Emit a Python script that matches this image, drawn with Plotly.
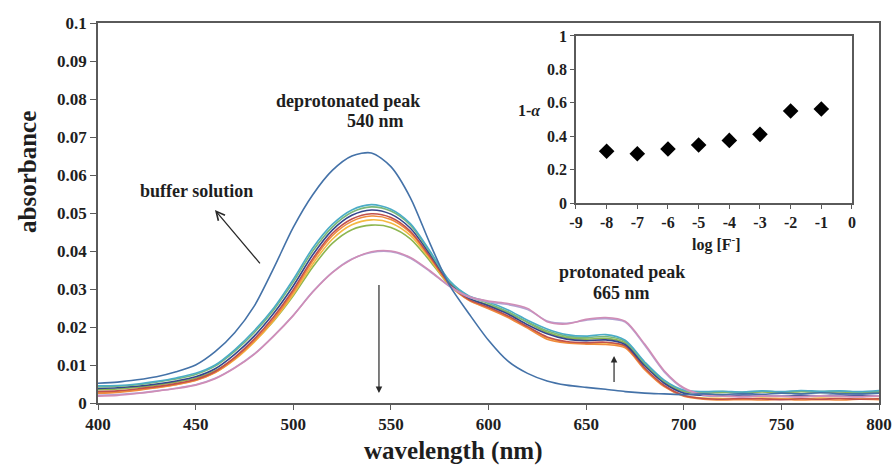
import plotly.graph_objects as go

# ---------------- data ----------------
wavelength = list(range(400, 801, 10))

buffer_solution = [0.0052, 0.0055, 0.0061, 0.0069, 0.0082, 0.0100, 0.0135, 0.0185, 0.0255, 0.0355,
                   0.0462, 0.0548, 0.0612, 0.0650, 0.0658, 0.0622, 0.0540, 0.0420, 0.0310, 0.0235,
                   0.0165, 0.0110, 0.0078, 0.0058, 0.0047, 0.0041, 0.0036, 0.0030, 0.0026, 0.0024,
                   0.0022, 0.0024, 0.0022, 0.0025, 0.0023, 0.0026, 0.0024, 0.0027, 0.0025, 0.0024, 0.0026]

s_aqua = [0.0045, 0.0046, 0.0050, 0.0057, 0.0066, 0.0078, 0.0100, 0.0140, 0.0190, 0.0250,
          0.0325, 0.0408, 0.0470, 0.0508, 0.0522, 0.0510, 0.0472, 0.0400, 0.0322, 0.0282,
          0.0266, 0.0245, 0.0218, 0.0195, 0.0180, 0.0176, 0.0180, 0.0165, 0.0108, 0.0060,
          0.0034, 0.0030, 0.0031, 0.0029, 0.0032, 0.0030, 0.0033, 0.0031, 0.0032, 0.0030, 0.0033]

s_lightgreen = [0.0042, 0.0044, 0.0048, 0.0055, 0.0063, 0.0075, 0.0097, 0.0136, 0.0185, 0.0245,
                0.0318, 0.0400, 0.0463, 0.0502, 0.0516, 0.0505, 0.0468, 0.0397, 0.0320, 0.0280,
                0.0262, 0.0240, 0.0213, 0.0190, 0.0176, 0.0172, 0.0175, 0.0162, 0.0105, 0.0058,
                0.0032, 0.0029, 0.0030, 0.0028, 0.0031, 0.0029, 0.0031, 0.0030, 0.0031, 0.0029, 0.0030]

s_navy = [0.0038, 0.0040, 0.0044, 0.0050, 0.0058, 0.0069, 0.0090, 0.0128, 0.0176, 0.0236,
          0.0308, 0.0390, 0.0455, 0.0494, 0.0508, 0.0497, 0.0460, 0.0392, 0.0318, 0.0276,
          0.0256, 0.0234, 0.0206, 0.0182, 0.0168, 0.0164, 0.0166, 0.0154, 0.0098, 0.0052,
          0.0026, 0.0020, 0.0019, 0.0021, 0.0020, 0.0018, 0.0020, 0.0019, 0.0021, 0.0020, 0.0019]

s_red = [0.0030, 0.0032, 0.0037, 0.0043, 0.0051, 0.0062, 0.0083, 0.0120, 0.0168, 0.0227,
         0.0298, 0.0380, 0.0446, 0.0484, 0.0498, 0.0488, 0.0452, 0.0386, 0.0314, 0.0272,
         0.0252, 0.0229, 0.0201, 0.0174, 0.0162, 0.0159, 0.0160, 0.0150, 0.0092, 0.0046,
         0.0020, 0.0012, 0.0010, 0.0012, 0.0011, 0.0009, 0.0011, 0.0010, 0.0012, 0.0010, 0.0011]

s_orange = [0.0025, 0.0028, 0.0033, 0.0040, 0.0048, 0.0059, 0.0080, 0.0116, 0.0163, 0.0221,
            0.0292, 0.0374, 0.0440, 0.0478, 0.0492, 0.0483, 0.0448, 0.0383, 0.0312, 0.0270,
            0.0248, 0.0225, 0.0197, 0.0168, 0.0158, 0.0155, 0.0154, 0.0145, 0.0088, 0.0043,
            0.0018, 0.0010, 0.0008, 0.0009, 0.0008, 0.0010, 0.0008, 0.0009, 0.0008, 0.0010, 0.0009]

s_yellow = [0.0028, 0.0030, 0.0035, 0.0041, 0.0049, 0.0060, 0.0080, 0.0114, 0.0160, 0.0217,
            0.0286, 0.0366, 0.0431, 0.0469, 0.0482, 0.0474, 0.0441, 0.0379, 0.0310, 0.0271,
            0.0250, 0.0228, 0.0200, 0.0172, 0.0160, 0.0157, 0.0158, 0.0148, 0.0090, 0.0045,
            0.0020, 0.0013, 0.0012, 0.0011, 0.0013, 0.0012, 0.0011, 0.0013, 0.0012, 0.0011, 0.0012]

s_green = [0.0035, 0.0037, 0.0041, 0.0047, 0.0055, 0.0065, 0.0085, 0.0118, 0.0162, 0.0216,
           0.0282, 0.0358, 0.0420, 0.0456, 0.0468, 0.0462, 0.0432, 0.0374, 0.0310, 0.0274,
           0.0258, 0.0238, 0.0212, 0.0186, 0.0172, 0.0168, 0.0170, 0.0158, 0.0102, 0.0055,
           0.0030, 0.0026, 0.0028, 0.0027, 0.0029, 0.0027, 0.0030, 0.0028, 0.0029, 0.0027, 0.0028]

s_pink = [0.0018, 0.0020, 0.0025, 0.0031, 0.0038, 0.0047, 0.0064, 0.0092, 0.0128, 0.0176,
          0.0230, 0.0292, 0.0343, 0.0378, 0.0398, 0.0400, 0.0383, 0.0348, 0.0308, 0.0280,
          0.0268, 0.0262, 0.0249, 0.0214, 0.0208, 0.0220, 0.0225, 0.0215, 0.0155, 0.0085,
          0.0040, 0.0022, 0.0018, 0.0016, 0.0018, 0.0017, 0.0016, 0.0018, 0.0017, 0.0016, 0.0018]

s_lavender = [0.0020, 0.0022, 0.0026, 0.0032, 0.0039, 0.0048, 0.0065, 0.0093, 0.0129, 0.0177,
              0.0231, 0.0293, 0.0344, 0.0379, 0.0396, 0.0398, 0.0381, 0.0346, 0.0307, 0.0278,
              0.0266, 0.0259, 0.0246, 0.0216, 0.0210, 0.0218, 0.0222, 0.0213, 0.0152, 0.0082,
              0.0038, 0.0021, 0.0019, 0.0017, 0.0019, 0.0018, 0.0017, 0.0019, 0.0018, 0.0017, 0.0019]

log_F = [-8, -7, -6, -5, -4, -3, -2, -1]
one_minus_alpha = [0.31, 0.295, 0.323, 0.347, 0.375, 0.411, 0.551, 0.563]

main_y_ticks = [0, 0.01, 0.02, 0.03, 0.04, 0.05, 0.06, 0.07, 0.08, 0.09, 0.1]
main_x_ticks = [400, 450, 500, 550, 600, 650, 700, 750, 800]
inset_x_ticks = [-9, -8, -7, -6, -5, -4, -3, -2, -1, 0]
inset_x_labels = ["-9", "-8", "-7", "-6", "-5", "-4", "-3", "-2", "-1", "0"]
inset_y_ticks = [0, 0.2, 0.4, 0.6, 0.8, 1]

# ---------------- figure ----------------
SERIF = "Liberation Serif"
TXT = "#1e1e1e"
AX = "#5a5a5a"

fig = go.Figure()

series = [
    (s_green, "#8DB64F"),
    (s_yellow, "#F4B942"),
    (s_orange, "#F08A3C"),
    (s_red, "#C0504D"),
    (s_navy, "#34468C"),
    (s_lightgreen, "#79B87A"),
    (s_aqua, "#4BACC6"),
    (s_lavender, "#B3A2D2"),
    (s_pink, "#D08DB6"),
]
for ys, col in series:
    fig.add_trace(go.Scatter(x=wavelength, y=ys, mode="lines",
                             line=dict(color=col, width=1.6, shape="spline", smoothing=0.8),
                             showlegend=False, hoverinfo="skip", xaxis="x", yaxis="y"))

fig.add_trace(go.Scatter(x=wavelength, y=buffer_solution, mode="lines",
                         line=dict(color="#4472A8", width=1.6, shape="spline", smoothing=0.8),
                         showlegend=False, hoverinfo="skip", xaxis="x", yaxis="y"))

fig.add_trace(go.Scatter(x=log_F, y=one_minus_alpha, mode="markers",
                         marker=dict(symbol="diamond", size=12, color="black"),
                         showlegend=False, hoverinfo="skip", xaxis="x2", yaxis="y2"))

tick_font = dict(family=SERIF, size=17, color=TXT, weight="bold")
inset_font = dict(family=SERIF, size=16, color=TXT, weight="bold")

fig.update_layout(
    width=894, height=466,
    margin=dict(l=98, r=15, t=23, b=63, autoexpand=False),
    paper_bgcolor="white", plot_bgcolor="white",
    xaxis=dict(range=[400, 800], tickvals=main_x_ticks, showgrid=False, zeroline=False,
               showline=True, linecolor=AX, linewidth=1.5, mirror=True, automargin=False,
               ticks="outside", ticklen=5, tickcolor=AX, tickwidth=1.2,
               tickfont=tick_font),
    yaxis=dict(range=[0, 0.1], tickvals=main_y_ticks, showgrid=False, zeroline=False,
               showline=True, linecolor=AX, linewidth=1.5, mirror=True, automargin=False,
               ticks="outside", ticklen=6, tickcolor=AX, tickwidth=1.2,
               tickfont=tick_font),
    xaxis2=dict(domain=[0.612, 0.9654], anchor="y2", range=[-9, 0],
                tickvals=inset_x_ticks, ticktext=inset_x_labels, automargin=False,
                showgrid=False, zeroline=False, showline=True, linecolor=AX, linewidth=1.5,
                mirror=True, ticks="outside", ticklen=4, tickcolor=AX, tickfont=inset_font),
    yaxis2=dict(domain=[0.5263, 0.9658], anchor="x2", range=[0, 1],
                tickvals=inset_y_ticks, automargin=False,
                showgrid=False, zeroline=False, showline=True, linecolor=AX, linewidth=1.5,
                mirror=True, ticks="outside", ticklen=4, tickcolor=AX, tickfont=inset_font),
)

ann_font = dict(family=SERIF, size=18, color=TXT, weight="bold")
C = dict(xanchor="center", yanchor="middle", showarrow=False)
annotations = [
    # axis titles
    dict(text="absorbance", xref="paper", yref="paper", x=(27 - 98) / 781, y=(403 - 172) / 380,
         textangle=-90, font=dict(family=SERIF, size=25, color=TXT, weight="bold"), **C),
    dict(text="wavelength (nm)", xref="paper", yref="paper", x=(453 - 98) / 781, y=(403 - 451) / 380,
         font=dict(family=SERIF, size=25, color=TXT, weight="bold"), **C),
    # inset titles
    dict(text="1-<i>α</i>", xref="paper", yref="paper", x=(529 - 98) / 781, y=(403 - 110) / 380,
         font=inset_font, **C),
    dict(text="log [F<sup>-</sup>]", xref="paper", yref="paper", x=(716 - 98) / 781, y=(403 - 243) / 380,
         font=inset_font, **C),
    # labels
    dict(text="deprotonated peak", x=528.0, y=0.0794, xref="x", yref="y", font=ann_font, **C),
    dict(text="540 nm", x=542.2, y=0.0742, xref="x", yref="y", font=ann_font, **C),
    dict(text="buffer solution", x=450.5, y=0.0559, xref="x", yref="y", font=ann_font, **C),
    dict(text="protonated peak", x=668.2, y=0.03455, xref="x", yref="y", font=ann_font, **C),
    dict(text="665 nm", x=668.2, y=0.0289, xref="x", yref="y", font=ann_font, **C),
    # arrows
    dict(text=" ", x=459.9, y=0.0508, xref="x", yref="y", ax=48, ay=57, showarrow=True,
         arrowhead=5, arrowsize=1.3, arrowwidth=1.3, arrowcolor="#2a2a2a"),
    dict(text=" ", x=543.9, y=0.0026, xref="x", yref="y", ax=0, ay=-118, showarrow=True,
         arrowhead=2, arrowsize=1.1, arrowwidth=1.2, arrowcolor="#2a2a2a"),
    dict(text=" ", x=664.3, y=0.01237, xref="x", yref="y", ax=0, ay=36, showarrow=True,
         arrowhead=2, arrowsize=1.1, arrowwidth=1.2, arrowcolor="#2a2a2a"),
]
fig.update_layout(annotations=annotations)

fig.write_html("out.html", config={"displayModeBar": False},
               post_script="document.body.style.margin='0';document.body.style.overflow='hidden';")
